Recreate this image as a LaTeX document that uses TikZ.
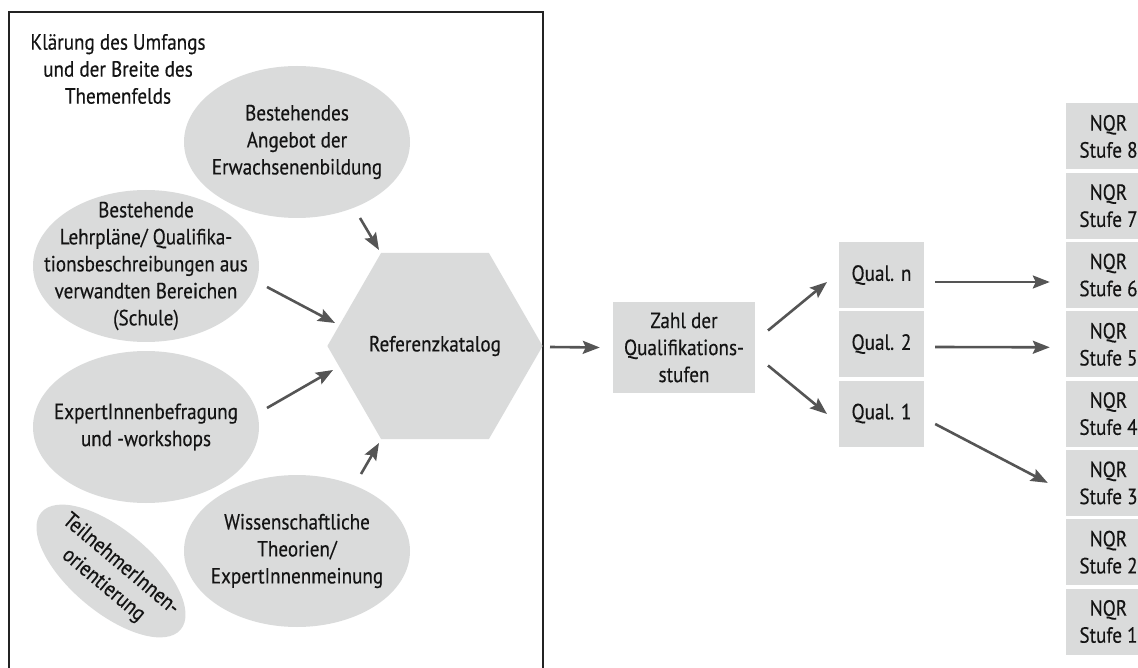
\documentclass[tikz,border=0pt]{standalone}
\usepackage{fontspec}
\setmainfont[FakeStretch=0.87,FakeBold=0.35]{PT Sans}
\usetikzlibrary{shapes.geometric,arrows.meta}
\definecolor{boxgray}{RGB}{218,219,219}
\definecolor{arrgray}{RGB}{85,85,85}
\definecolor{framecol}{RGB}{35,35,35}
\definecolor{txtcol}{RGB}{20,20,20}
\begin{document}
\begin{tikzpicture}[x=1pt,y=-1pt,
  txt/.style={font=\fontsize{22}{27}\selectfont, text=txtcol, align=center, inner sep=0pt},
  ell/.style={ellipse, fill=boxgray, minimum width=226pt, minimum height=152pt, inner sep=0pt},
  hexa/.style={regular polygon, regular polygon sides=6, fill=boxgray, minimum size=202pt, inner sep=0pt, txt},
  rbox/.style={rectangle, fill=boxgray, minimum width=85pt, minimum height=66pt, inner sep=0pt, txt},
  arr/.style={draw=arrgray, line width=2.6pt, -{Stealth[length=17pt,width=13pt,inset=3pt]}},
]
\useasboundingbox (0,0) rectangle (1138,668);
\clip (0,0) rectangle (1138,668);
\draw[framecol, line width=1.3pt] (9,690) -- (9,12) -- (543,12) -- (543,690);

\node[txt] (title) at (118,69) {Klärung des Umfangs\\und der Breite des\\Themenfelds};

\node[ell] (best) at (297,142) {};
\node[txt] (bestt) at (best.center) {Bestehendes\\Angebot der\\Erwachsenenbildung};
\node[ell] (lehr) at (146,266) {};
\node[txt] (lehrt) at (lehr.center) {Bestehende\\Lehrpläne/ Qualifika-\\tionsbeschreibungen aus\\verwandten Bereichen\\(Schule)};
\node[ell] (exp) at (146,427) {};
\node[txt] (expt) at (exp.center) {ExpertInnenbefragung\\und -workshops};
\node[ell] (wiss) at (297,551) {};
\node[txt] (wisst) at (wiss.center) {Wissenschaftliche\\Theorien/\\ExpertInnenmeinung};
\node[ell, minimum width=182pt, minimum height=82pt, rotate=-40] (teil) at (111,571) {};
\node[txt, rotate=-40] (teilt) at ([shift={(1,4)}]teil.center) {TeilnehmerInnen-\\orientierung};

\node[hexa] (hex) at (435,346) {Referenzkatalog};

\node[rbox, minimum width=142pt, minimum height=91pt] (zahl) at (684,347.5) {Zahl der\\Qualifikations-\\stufen};

\node[rbox] (qn) at (881.5,275) {Qual. n};
\node[rbox] (q2) at (881.5,344) {Qual. 2};
\node[rbox] (q1) at (881.5,413.5) {Qual. 1};

\foreach \k in {1,...,8}{
  \node[rbox] (nqr\k) at (1108.5,{275+(6-\k)*69.3}) {NQR\\Stufe \k};
}

\draw[arr] ([shift={(63,76)}]best.center) -- ([shift={(-56,-96)}]hex.center);
\draw[arr] ([shift={(121,21)}]lehr.center) -- ([shift={(-100,-23)}]hex.center);
\draw[arr] ([shift={(121,-19)}]exp.center) -- ([shift={(-102,24)}]hex.center);
\draw[arr] ([shift={(64,-77)}]wiss.center) -- ([shift={(-56,97)}]hex.center);
\draw[arr] ([shift={(115,1)}]hex.center) -- ([shift={(-13,0)}]zahl.west);
\draw[arr] ([shift={(84,-17)}]zahl.center) -- ([shift={(-54.5,7)}]qn.center);
\draw[arr] ([shift={(84,18)}]zahl.center) -- ([shift={(-54.5,0.5)}]q1.center);
\draw[arr] ([shift={(11,7)}]qn.east) -- ([shift={(-16,7)}]nqr6.west);
\draw[arr] ([shift={(11,3)}]q2.east) -- ([shift={(-16,3)}]nqr5.west);
\draw[arr] ([shift={(11,10.5)}]q1.east) -- ([shift={(-18,0)}]nqr3.west);
\end{tikzpicture}
\end{document}
